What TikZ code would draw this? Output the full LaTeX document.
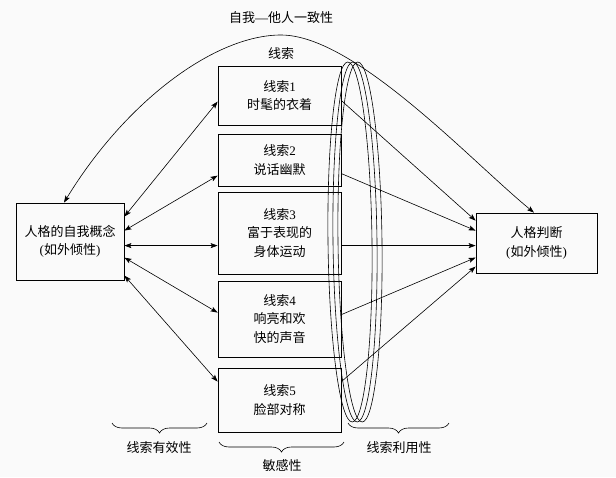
\documentclass[tikz,border=0pt]{standalone}
\usepackage{fontspec}
\setmainfont{Liberation Serif}
\newfontfamily\cjk{Noto Sans CJK SC}
\usetikzlibrary{calc,decorations.pathreplacing,arrows.meta}
\newcommand\cjkf{\cjk\fontsize{13}{18.5}\selectfont}
\newcommand\rmp[1]{{\rmfamily #1}}
\begin{document}
\begin{tikzpicture}[x=1pt,y=-1pt,
  box/.style={draw, line width=0.8pt, inner sep=0pt, align=center, font=\cjkf},
  conn/.style={line width=0.6pt},
  arr/.style={-{Stealth[length=7pt,width=5pt,inset=1.5pt]}},
  darr/.style={{Stealth[length=7pt,width=5pt,inset=1.5pt]}-{Stealth[length=7pt,width=5pt,inset=1.5pt]}},
  lbl/.style={font=\cjkf},
  brc/.style={decorate, decoration={brace, amplitude=10pt}, line width=0.6pt},
  lens/.style={line width=0.6pt}]
\fill[black!2] (0,0) rectangle (616,477);
\useasboundingbox (0,0) rectangle (616,477);

% boxes
\node[box, minimum width=108pt, minimum height=77pt] (L) at (70,241.5) {人格的自我概念\\\rmp{(}如外倾性\rmp{)}};
\node[box, minimum width=123pt, minimum height=59pt] (b1) at (279.5,95.5) {线索\rmp{1}\\时髦的衣着};
\node[box, minimum width=123pt, minimum height=52pt] (b2) at (279.5,160) {线索\rmp{2}\\说话幽默};
\node[box, minimum width=123pt, minimum height=82pt] (b3) at (279.5,233) {线索\rmp{3}\\富于表现的\\身体运动};
\node[box, minimum width=123pt, minimum height=76pt] (b4) at (279.5,319) {线索\rmp{4}\\响亮和欢\\快的声音};
\node[box, minimum width=123pt, minimum height=64pt] (b5) at (279.5,400) {线索\rmp{5}\\脸部对称};
\node[box, minimum width=121pt, minimum height=60pt] (R) at (536.5,243) {人格判断\\\rmp{(}如外倾性\rmp{)}};

% lens ellipses
\foreach \cx in {350,355,360}
  \draw[lens, rotate around={0.7:(\cx,242)}] (\cx,242) ellipse (22pt and 180pt);

% left connectors
\draw[conn,darr] ($(L.north east)+(0,14)$) -- ($(b1.north west)+(0,36)$);
\draw[conn,darr] ($(L.north east)+(0,28)$) -- ($(b2.north west)+(0,42)$);
\draw[conn,darr] ($(L.north east)+(0,43)$) -- ($(b3.north west)+(0,54)$);
\draw[conn,darr] ($(L.north east)+(0,55)$) -- ($(b4.north west)+(0,32)$);
\draw[conn,darr] ($(L.north east)+(0,73)$) -- ($(b5.north west)+(0,14)$);

% right connectors
\draw[conn,arr] ($(b1.north east)+(0,35)$) -- ($(R.north west)+(0,8)$);
\draw[conn,arr] ($(b2.north east)+(0,40)$) -- ($(R.north west)+(0,18)$);
\draw[conn,arr] ($(b3.north east)+(0,54)$) -- ($(R.north west)+(0,33)$);
\draw[conn,arr] ($(b4.north east)+(0,34)$) -- ($(R.north west)+(0,45)$);
\draw[conn,arr] ($(b5.north east)+(0,14)$) -- ($(R.north west)+(0,54)$);

% arch
\draw[conn,darr] ($(L.north)+(-6,0)$) .. controls (126,101) and (215,35) .. (281,35)
   .. controls (355,35) and (472,162) .. ($(R.north)+(-2.5,0)$);

% labels
\node[lbl] (t1) at (281,18) {自我\rmp{—}他人一致性};
\node[lbl] (t2) at (281,54) {线索};

% braces
\draw[brc] (207,423) -- (112,423);
\draw[brc] (344,442) -- (219,442);
\draw[brc] (449,423) -- (348,423);
\node[lbl] (t3) at (159,448) {线索有效性};
\node[lbl] (t4) at (282,466) {敏感性};
\node[lbl] (t5) at (399,448) {线索利用性};
\end{tikzpicture}
\end{document}
